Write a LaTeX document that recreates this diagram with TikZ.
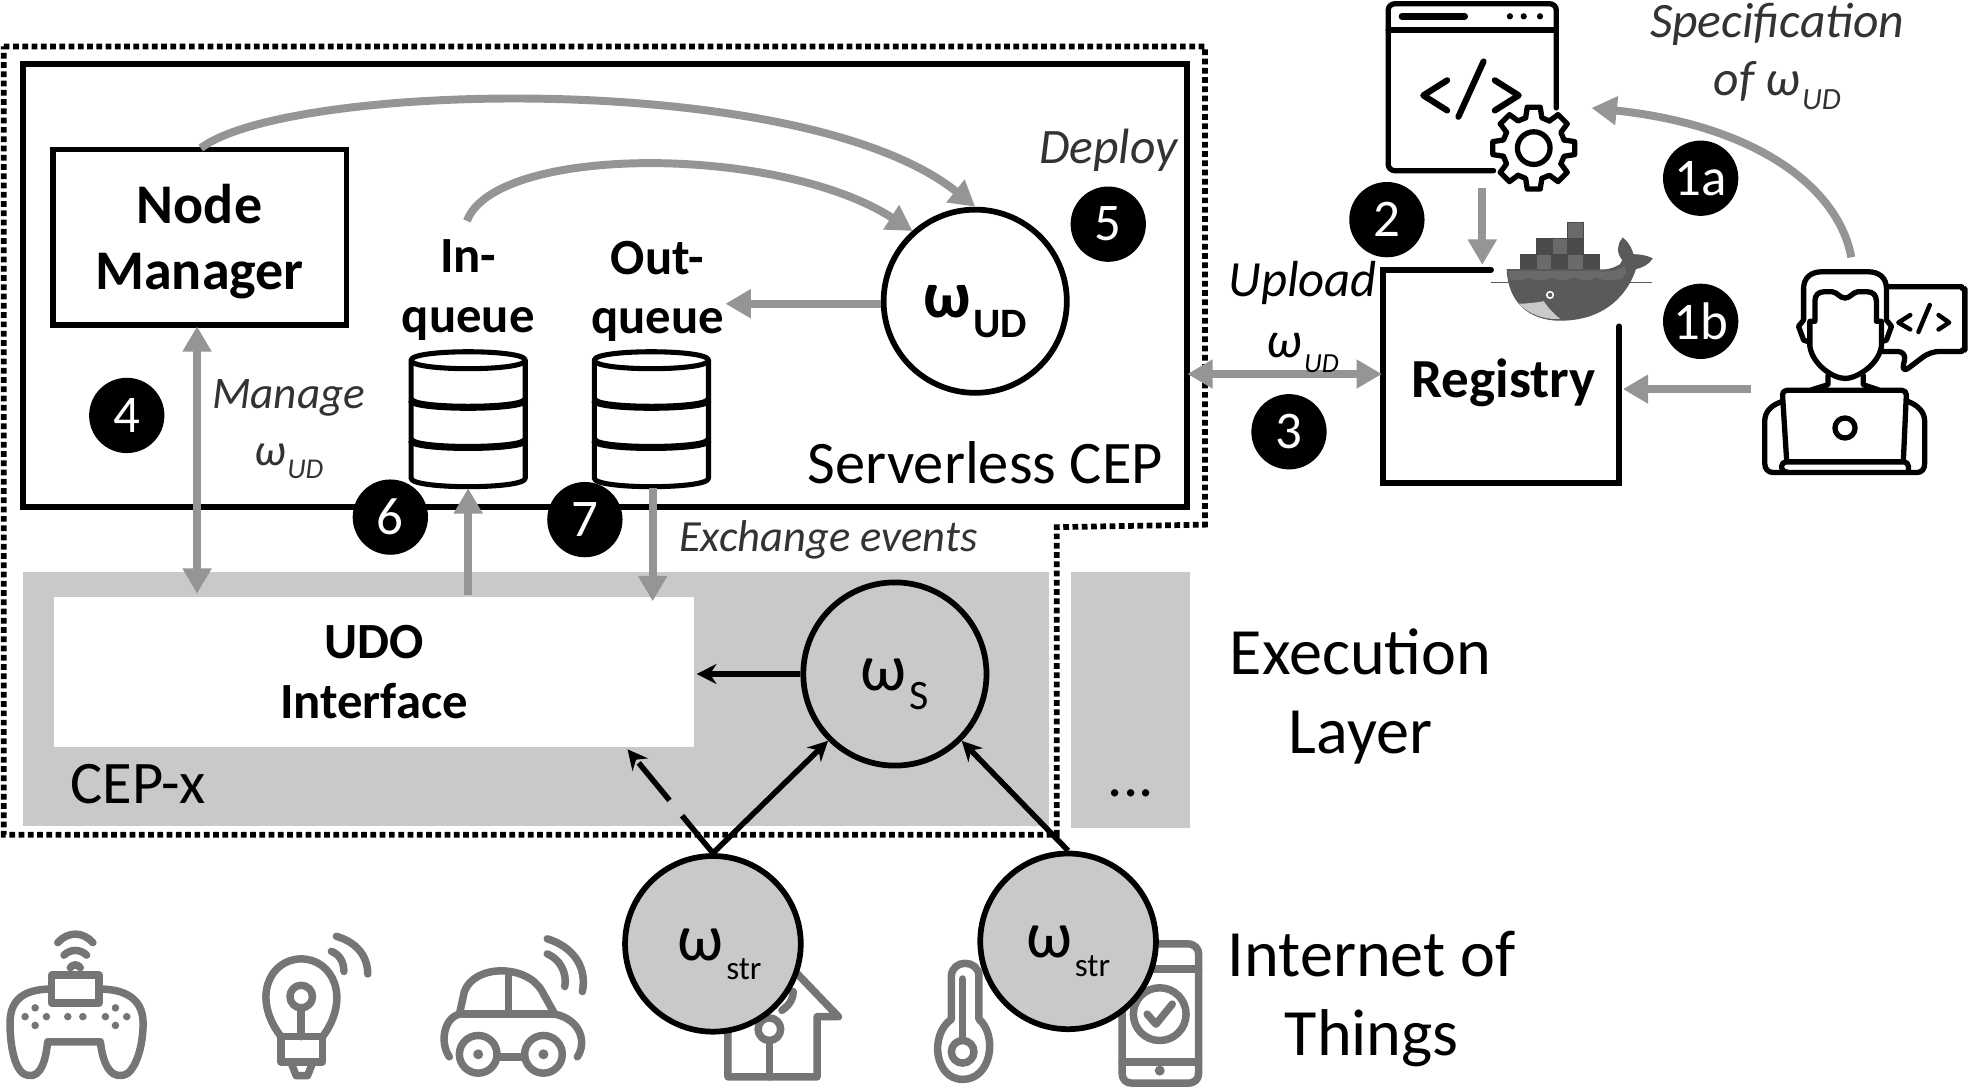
\documentclass[tikz,border=0pt]{standalone}
\usepackage{fontspec}
\setmainfont{Carlito}
\usetikzlibrary{arrows.meta, positioning}
\definecolor{blockgray}{HTML}{C9C9C9}
\definecolor{arrowgray}{HTML}{959595}
\definecolor{icongray}{HTML}{757575}
\definecolor{labelgray}{HTML}{333333}
\definecolor{hullgray}{HTML}{5A5A5A}
\definecolor{cratedark}{HTML}{4A4A4A}
\definecolor{cratelight}{HTML}{6A6A6A}
\newcommand{\wsub}[2]{ω\kern.04em\lower.6ex\hbox{\fontsize{#1}{#1}\selectfont #2}}
\tikzset{
  boxnode/.style={draw, line width=2.6pt, fill=white, inner sep=0pt},
  blocknode/.style={fill=blockgray, inner sep=0pt},
  opnode/.style={circle, draw, line width=2.6pt, minimum size=2.92cm, inner sep=0pt, fill=blockgray, text height=21pt, text depth=6pt, font=\fontsize{30}{30}\selectfont},
  strnode/.style={opnode, minimum size=2.8cm},
  badge/.style={circle, fill=black, text=white, minimum size=1.2cm, inner sep=0pt, font=\fontsize{24}{24}\selectfont},
  flowarrow/.style={draw=arrowgray, line width=3.6pt, -{Triangle[length=11.5pt,width=12.5pt]}},
  flowboth/.style={draw=arrowgray, line width=3.6pt, {Triangle[length=11.5pt,width=12.5pt]}-{Triangle[length=11.5pt,width=12.5pt]}},
  eventarrow/.style={line width=2.5pt, -{Stealth[length=9pt,width=9pt]}},
  labelnode/.style={inner sep=0pt, align=center, text=labelgray, font=\fontsize{22.5}{27}\selectfont\itshape},
  titlenode/.style={inner sep=0pt, align=center, font=\fontsize{30}{36}\selectfont},
  boldnode/.style={inner sep=0pt, align=center, font=\fontsize{23}{27}\selectfont\bfseries},
  iconline/.style={draw=icongray, line width=3.4pt, line cap=round, line join=round},
  blackicon/.style={draw=black, line width=2.4pt, line cap=round, line join=round}
}
\begin{document}
\begin{tikzpicture}[x=0.02cm, y=-0.02cm, node distance=0.3cm]
  \useasboundingbox (0,0) rectangle (1568,866);
  % blocks
  \node (cepx) [blocknode, minimum width=16.36cm, minimum height=4.04cm] at (427,557) {};
  \node (cepdots) [blocknode, minimum width=1.9cm, minimum height=4.08cm] at (900.5,558) {};
  \draw[line width=2.6pt, dash pattern=on 2.6pt off 1.6pt] (3,37) -- (960,37) -- (960,418) -- (842,420) -- (842,665) -- (3,665) -- cycle;
  \node (serverless) [boxnode, minimum width=18.56cm, minimum height=7.06cm] at (482,227.5) {};
  \node (manager) [boxnode, minimum width=4.68cm, minimum height=2.8cm, font=\fontsize{25.4}{30}\selectfont\bfseries, align=center, text depth=0pt] at (159,189) {Node\\Manager};
  \node (udo) [fill=white, inner sep=0pt, minimum width=10.2cm, minimum height=2.38cm, font=\fontsize{23}{27}\selectfont\bfseries, align=center] at (298,535.5) {UDO\\Interface};
  \node (omegaud) [opnode, fill=white, font=\fontsize{30}{30}\selectfont\bfseries] at (777,240) {\wsub{19}{UD}};
  \node (omegas) [opnode] at (713,537) {\wsub{19}{S}};
  % queues
  \foreach \qx/\qname in {373/inqueue, 519/outqueue} {
    \node (\qname) [inner sep=0pt, minimum width=1.84cm, minimum height=2.16cm] at (\qx,334) {};
    \draw[line width=2.3pt, line join=round, fill=white] ({\qx-45.5},287) .. controls ({\qx-45.5},278) and ({\qx+45.5},278) .. ({\qx+45.5},287)
      -- ({\qx+45.5},381) .. controls ({\qx+45.5},390) and ({\qx-45.5},390) .. ({\qx-45.5},381) -- cycle;
    \draw[line width=2.3pt] ({\qx-45.5},287) .. controls ({\qx-45.5},296) and ({\qx+45.5},296) .. ({\qx+45.5},287);
    \foreach \qy in {318.5,350.5} {
      \draw[line width=3.2pt] ({\qx-45.5},\qy) .. controls ({\qx-45.5},\qy+8) and ({\qx+45.5},\qy+8) .. ({\qx+45.5},\qy);
    }
  }
  \node (intext) [boldnode] at (373,231) {In-\\queue};
  \node (outtext) [boldnode] at (524,232) {Out-\\queue};
  % texts
  \node (serverlesstext) [inner sep=0pt, font=\fontsize{27.4}{27}\selectfont] at (785,369) {Serverless CEP};
  \node (cepxtext) [inner sep=0pt, font=\fontsize{27.4}{27}\selectfont] at (110,625) {CEP-x};
  \node (moredots) [inner sep=0pt, font=\fontsize{27.4}{27}\selectfont] at (901,632) {...};
  \node (deploy) [labelnode] at (883,120) {Deploy};
  \node (manage) [labelnode, font=\fontsize{20.5}{26}\selectfont\itshape] at (230,342) {Manage\\\wsub{13}{UD}};
  \node (exchange) [labelnode, font=\fontsize{20.2}{24}\selectfont\itshape] at (660,430) {Exchange events};
  \node (specification) [labelnode, font=\fontsize{22.5}{26.5}\selectfont\itshape] at (1416,45) {Specification\\of \wsub{14}{UD}};
  \node (execution) [titlenode] at (1084,555) {Execution\\Layer};
  \node (iot) [titlenode] at (1093,796) {Internet of\\Things};
  % registry
  \node (registry) [boldnode, font=\fontsize{25}{27}\selectfont\bfseries] at (1198,305) {Registry};
  \coordinate (registryin) at (1101,298);
  \coordinate (registryuser) at (1293,310);
  \coordinate (registrytop) at (1181,211);
  \draw[line width=2.6pt, line cap=round] (1188,215) -- (1102,215) -- (1102,385) -- (1290,385) -- (1290,260);
  % docker whale
  \foreach \cx/\cy/\cc in {1211.5/202.5/cratedark,1224/202.5/cratelight,1236.5/202.5/cratedark,1249/202.5/cratelight,1261.5/202.5/cratedark,1224/190/cratedark,1236.5/190/cratelight,1249/190/cratedark,1249/177.5/cratelight} {
    \draw[fill=\cc, draw=cratedark, line width=0.5pt] (\cx,\cy) rectangle ++(12.5,12.5);
  }
  \draw[fill=hullgray, draw=hullgray, line width=0.6pt] (1201,215) -- (1272,215) .. controls (1280,216) and (1286,214) .. (1291,211)
    .. controls (1292,209) and (1293,208) .. (1293,207) .. controls (1288,201) and (1289,195) .. (1293,190) .. controls (1298,194) and (1300,199) .. (1301,203)
    .. controls (1306,203) and (1312,204) .. (1316,206) .. controls (1314,210) and (1308,213) .. (1303,214)
    .. controls (1298,230) and (1282,255) .. (1243,255) .. controls (1218,255) and (1202,240) .. (1201,215) -- cycle;
  \fill[cratelight] (1202,216) -- (1272,216) .. controls (1280,217) and (1288,216) .. (1294,212) -- (1296,217) -- (1292,222) .. controls (1284,224) and (1278,224) .. (1272,221) .. controls (1266,224) and (1260,224) .. (1254,221) .. controls (1248,224) and (1242,224) .. (1236,221) .. controls (1230,224) and (1224,224) .. (1218,221) .. controls (1212,224) and (1206,224) .. (1202,222) -- cycle;
  \fill[blockgray] (1210,242) .. controls (1216,242) and (1224,241) .. (1230,240) .. controls (1234,246) and (1238,250) .. (1243,254) .. controls (1230,255) and (1218,250) .. (1210,242) -- cycle;
  \draw[hullgray, line width=0.8pt] (1188,225) -- (1316,225);
  \draw[white, line width=0.7pt, fill=hullgray] (1235,235) circle [radius=2.6];
  % code window
  \draw[blackicon, rounded corners=3pt] (1190,136) -- (1106,136) -- (1106,3) -- (1240,3) -- (1240,86);
  \draw[blackicon] (1106,24) -- (1240,24);
  \draw[blackicon, line width=3pt] (1117,13) -- (1167,13);
  \foreach \dotx in {1203,1214,1227} {
    \fill (\dotx,13) circle [radius=2.5];
  }
  \draw[blackicon, line width=2.8pt] (1153,64) -- (1134,76) -- (1153,88);
  \draw[blackicon, line width=2.8pt] (1182,49) -- (1162,93);
  \draw[blackicon, line width=2.8pt] (1191,64) -- (1210,76) -- (1191,88);
  \begin{scope}[shift={(1222,118)}]
    \fill[white] (0,0) circle [radius=28];
    \foreach \a in {0,45,...,315} {
      \draw[blackicon] (\a-15:25) -- (\a-9:33) -- (\a+9:33) -- (\a+15:25) -- (\a+30:25);
    }
    \draw[blackicon] (0,0) circle [radius=13];
  \end{scope}
  \coordinate (codeout) at (1181,150);
  \coordinate (codegear) at (1268,86);
  % person
  \draw[blackicon, fill=white, rounded corners=4pt] (1503,228.5) -- (1556,228.5) .. controls (1562,228.5) and (1565.5,232) .. (1565.5,237) -- (1565.5,272) .. controls (1565.5,277) and (1562,280) .. (1556,280) -- (1538,280) -- (1515,297.5) -- (1519,280) -- (1500,280);
  \draw[blackicon, line width=2pt] (1522,251) -- (1512.5,257) -- (1522,262.5);
  \draw[blackicon, line width=2pt] (1537.5,243) -- (1528.5,264.5);
  \draw[blackicon, line width=2pt] (1544.5,251) -- (1553,257) -- (1544.5,262.5);
  \draw[blackicon, fill=white] (1437,255) -- (1437,230) .. controls (1437,221) and (1443,216.5) .. (1452,216.5) -- (1488,216.5) .. controls (1497,216.5) and (1503,221) .. (1503,230) -- (1503,255) -- (1507,260) -- (1503,271) -- (1497,273)
    -- (1443,273) -- (1437,271) -- (1433,260) -- cycle;
  \draw[blackicon, fill=white] (1442,256) -- (1446,256) -- (1446,240) .. controls (1446,235) and (1449,232.5) .. (1453,232.5) -- (1460,232.5) .. controls (1464,233) and (1466,237.5) .. (1470,237.5) .. controls (1474,237.5) and (1476,233) .. (1480,232.5) -- (1488,232.5) .. controls (1492,232.5) and (1495,235) .. (1495,240) -- (1495,256) -- (1499,256) -- (1499,276)
    .. controls (1497,290) and (1480,301.5) .. (1470,301.5) .. controls (1460,301.5) and (1444,290) .. (1442,276) -- cycle;
  \draw[blackicon] (1456.5,299) -- (1456.5,306.5) -- (1443.5,310.5);
  \draw[blackicon] (1484.5,299) -- (1484.5,306.5) -- (1496.5,310.5);
  \draw[blackicon] (1419.5,320) .. controls (1411,323) and (1406,328) .. (1406,336) -- (1406,369) .. controls (1406,374) and (1409,376.5) .. (1413,376.5) -- (1527,376.5) .. controls (1531,376.5) and (1533.5,374) .. (1533.5,369) -- (1533.5,336) .. controls (1533.5,328) and (1528,323) .. (1520.5,320);
  \draw[blackicon, fill=white, rounded corners=2pt] (1423.5,367) -- (1420,311) -- (1519,311) -- (1516.5,367);
  \draw[blackicon, rounded corners=2pt] (1424,376) -- (1419.5,376) -- (1419.5,368) -- (1520.5,368) -- (1520.5,376);
  \draw[blackicon] (1470,341) circle [radius=8];
  % iot icons
  \begin{scope}[iconline]
    \draw (41,788) .. controls (15,788) and (8,800) .. (8,815) .. controls (8,835) and (12,850) .. (18,855) .. controls (30,862) and (36,850) .. (38,830) -- (80,830) .. controls (82,850) and (90,862) .. (102,855) .. controls (108,850) and (114,835) .. (114,815) .. controls (114,800) and (105,788) .. (79,788);
    \draw (41,777) rectangle (79,799);
    \draw (56,771) .. controls (58,768) and (62,768) .. (64,771);
    \draw (51,761) .. controls (56,756) and (64,756) .. (69,761);
    \draw (46,751) .. controls (54,742) and (66,742) .. (74,751);
    \foreach \bx/\by in {20/810,37/810,28/803,28/817,54/810,66/810,84/810,101/810,92/803,92/817} {
      \fill[icongray] (\bx,\by) circle [radius=3];
    }
    \draw (224,826) .. controls (200,795) and (215,764) .. (240,764) .. controls (265,764) and (280,795) .. (257,826);
    \draw (224,826) rectangle (257,846);
    \draw (232,847) -- (236,857) -- (245,857) -- (249,847);
    \draw (240,794) circle [radius=9];
    \draw (240,803) -- (240,826);
    \draw (264,758) .. controls (270,760) and (274,766) .. (274,774);
    \draw (268,746) .. controls (282,750) and (293,760) .. (293,776);
    \draw (358,842) .. controls (350,830) and (354,811) .. (366,808) -- (370,790) .. controls (378,768) and (420,768) .. (432,790) -- (442,808) .. controls (462,812) and (468,830) .. (460,842);
    \draw (368,808) -- (442,808);
    \draw (405,775) -- (405,808);
    \draw (396,842) -- (418,842);
    \draw (381,840) circle [radius=15];
    \draw (433,840) circle [radius=15];
    \fill[icongray] (381,840) circle [radius=4];
    \fill[icongray] (433,840) circle [radius=4];
    \draw (436,760) .. controls (446,764) and (452,775) .. (450,786);
    \draw (436,748) .. controls (456,754) and (468,770) .. (464,790);
    \draw (578,810) -- (622,762) -- (668,810) -- (651,810) -- (651,858) -- (580,858) -- (580,810);
    \draw (613,820) circle [radius=9];
    \draw (613,829) -- (613,858);
    \draw (623,805) .. controls (630,800) and (632,795) .. (632,790);
    \draw (758,812) -- (758,778) .. controls (758,764) and (780,764) .. (780,778) -- (780,812) .. controls (795,825) and (790,860) .. (767,860) .. controls (745,860) and (740,825) .. (758,812);
    \draw (767,838) circle [radius=9];
    \draw (767,829) -- (767,780);
    \draw (894,760) .. controls (894,754) and (898,752) .. (904,752) -- (946,752) .. controls (952,752) and (955,756) .. (955,760) -- (955,855) .. controls (955,860) and (952,863) .. (946,863) -- (902,863) .. controls (897,863) and (894,860) .. (894,855) -- cycle;
    \draw (894,772) -- (955,772);
    \draw (894,846) -- (955,846);
    \draw (924,808) circle [radius=21];
    \draw (914,808) -- (921,816) -- (934,800);
    \fill[icongray] (924,853) circle [radius=4];
  \end{scope}
  \node (strone) [strnode] at (568,752) {\kern6pt\wsub{15}{str}};
  \node (strtwo) [strnode] at (851,750) {\wsub{15}{str}};
  % connectors
  \draw[flowboth] (157,260) -- (157,473);
  \draw[flowarrow] (373,474) -- (373,389);
  \draw[flowarrow] (520,389) -- (520,479);
  \draw[flowarrow] (omegaud.west |- 0,242) -- (578,242);
  \draw[flowarrow] (160,118) .. controls (230,65) and (640,55) .. (omegaud.north);
  \draw[flowarrow] (372,176) .. controls (395,115) and (620,115) .. (727,184);
  \draw[flowboth] (946,298) -- (registryin);
  \draw[flowarrow] (1395,310) -- (registryuser);
  \draw[flowarrow] (codeout) -- (registrytop);
  \draw[flowarrow] (1475,205) .. controls (1465,150) and (1400,100) .. (codegear);
  \draw[eventarrow] (omegas.west) -- (555,537);
  \draw[eventarrow] (strone.north) -- (omegas.south west);
  \draw[eventarrow] (strtwo.north) -- (omegas.south east);
  \draw[eventarrow, dash pattern=on 22pt off 9pt] (strone.north) -- (500,597);
  \node (upload) [labelnode, text=black, font=\fontsize{23}{27.5}\selectfont\itshape] at (1038,252.5) {Upload\\\wsub{12.5}{UD}};
  % badges
  \node (oneA) [badge] at (1355,142) {1a};
  \node (oneB) [badge] at (1355,256) {1b};
  \node (two) [badge] at (1105,175) {2};
  \node (three) [badge] at (1027,344) {3};
  \node (four) [badge] at (101,331) {4};
  \node (five) [badge, below=0.22cm of deploy] {5};
  \node (six) [badge] at (311,412) {6};
  \node (seven) [badge] at (466,414) {7};
\end{tikzpicture}
\end{document}
